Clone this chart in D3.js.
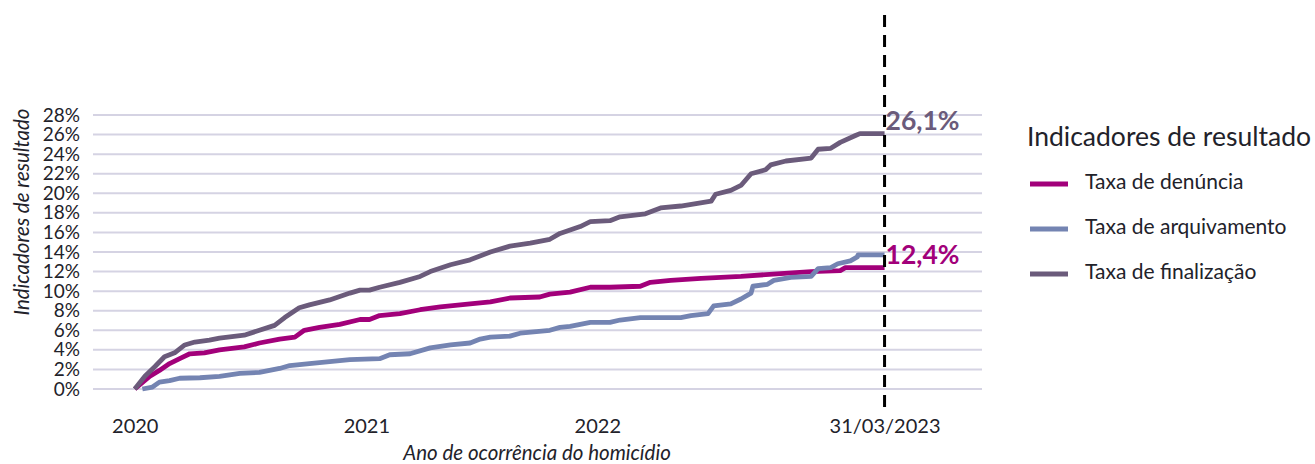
<!DOCTYPE html>
<html>
<head>
<meta charset="utf-8">
<script src="https://cdn.jsdelivr.net/npm/d3@7"></script>
<style>
    body { margin: 0; background: #fff; }
    svg { font-family: Lato, "Noto Sans", sans-serif; }
</style>
</head>
<body>
<div id="container"></div>
<script>

// Data (values in %).

const taxaDenuncia = [
    ['2020-01-01', 0], ['2020-01-25', 1.3], ['2020-02-09', 1.9], ['2020-02-25', 2.6],
    ['2020-03-12', 3.1], ['2020-03-28', 3.6], ['2020-04-20', 3.7], ['2020-05-14', 4.0],
    ['2020-06-22', 4.3], ['2020-07-16', 4.7], ['2020-08-17', 5.1], ['2020-09-10', 5.3],
    ['2020-09-25', 6.0], ['2020-10-19', 6.3], ['2020-11-20', 6.6], ['2020-12-22', 7.1],
    ['2021-01-06', 7.1], ['2021-01-22', 7.5], ['2021-02-23', 7.7], ['2021-03-27', 8.1],
    ['2021-04-28', 8.4], ['2021-06-14', 8.7], ['2021-07-16', 8.9], ['2021-08-16', 9.3],
    ['2021-10-02', 9.4], ['2021-10-18', 9.7], ['2021-11-19', 9.9], ['2021-12-21', 10.4],
    ['2022-01-21', 10.4], ['2022-03-10', 10.5], ['2022-03-26', 10.9], ['2022-04-27', 11.1],
    ['2022-06-14', 11.3], ['2022-08-16', 11.5], ['2022-10-18', 11.8], ['2022-12-05', 12.0],
    ['2023-01-20', 12.1], ['2023-01-28', 12.4], ['2023-03-31', 12.4]
];

const taxaArquivamento = [
    ['2020-01-13', 0], ['2020-01-29', 0.2], ['2020-02-09', 0.7], ['2020-02-25', 0.85],
    ['2020-03-12', 1.1], ['2020-04-13', 1.15], ['2020-05-14', 1.3], ['2020-06-15', 1.6],
    ['2020-07-16', 1.7], ['2020-08-17', 2.1], ['2020-09-02', 2.4], ['2020-10-03', 2.6],
    ['2020-11-04', 2.8], ['2020-12-06', 3.0], ['2021-01-22', 3.1], ['2021-02-07', 3.5],
    ['2021-03-11', 3.6], ['2021-04-12', 4.2], ['2021-05-14', 4.5], ['2021-06-14', 4.7],
    ['2021-06-30', 5.1], ['2021-07-16', 5.3], ['2021-08-16', 5.4], ['2021-09-01', 5.7],
    ['2021-10-18', 6.0], ['2021-11-03', 6.3], ['2021-11-19', 6.4], ['2021-12-21', 6.8],
    ['2022-01-21', 6.8], ['2022-02-06', 7.05], ['2022-03-10', 7.3], ['2022-05-13', 7.3],
    ['2022-05-29', 7.5], ['2022-06-25', 7.7], ['2022-07-04', 8.5], ['2022-07-31', 8.7],
    ['2022-08-16', 9.2], ['2022-09-01', 9.8], ['2022-09-04', 10.5], ['2022-09-27', 10.7],
    ['2022-10-07', 11.1], ['2022-11-03', 11.4], ['2022-12-05', 11.5], ['2022-12-16', 12.3],
    ['2023-01-05', 12.4], ['2023-01-16', 12.8], ['2023-02-05', 13.1], ['2023-02-16', 13.5],
    ['2023-02-17', 13.7], ['2023-03-31', 13.7]
];

const taxaFinalizacao = [
    ['2020-01-01', 0], ['2020-01-17', 1.3], ['2020-02-02', 2.3], ['2020-02-17', 3.3],
    ['2020-03-04', 3.7], ['2020-03-20', 4.5], ['2020-04-05', 4.8], ['2020-04-28', 5.0],
    ['2020-05-14', 5.2], ['2020-06-22', 5.5], ['2020-07-16', 6.0], ['2020-08-09', 6.5],
    ['2020-08-25', 7.3], ['2020-09-17', 8.3], ['2020-10-03', 8.6], ['2020-11-04', 9.1],
    ['2020-12-06', 9.8], ['2020-12-22', 10.1], ['2021-01-06', 10.1], ['2021-01-22', 10.4],
    ['2021-02-23', 10.9], ['2021-03-27', 11.5], ['2021-04-12', 12.0], ['2021-05-14', 12.7],
    ['2021-06-14', 13.2], ['2021-07-16', 14.0], ['2021-08-16', 14.6], ['2021-09-17', 14.9],
    ['2021-10-18', 15.3], ['2021-11-03', 15.9], ['2021-12-05', 16.6], ['2021-12-21', 17.1],
    ['2022-01-21', 17.2], ['2022-02-06', 17.6], ['2022-03-18', 17.9], ['2022-04-11', 18.5],
    ['2022-05-13', 18.7], ['2022-06-30', 19.2], ['2022-07-07', 19.9], ['2022-07-31', 20.3],
    ['2022-08-16', 20.8], ['2022-09-01', 22.0], ['2022-09-24', 22.4], ['2022-10-02', 22.9],
    ['2022-10-26', 23.3], ['2022-12-05', 23.6], ['2022-12-16', 24.5], ['2023-01-05', 24.6],
    ['2023-01-20', 25.2], ['2023-02-13', 25.9], ['2023-02-20', 26.1], ['2023-03-31', 26.1]
];

const seriesNames = ['Taxa de denúncia', 'Taxa de arquivamento', 'Taxa de finalização'];
const seriesColors = ['#a2007a', '#7484b2', '#6b5b7b'];
const endLabels = ['12,4%', null, '26,1%'];

const xTickDates = ['2020-01-01', '2021-01-01', '2022-01-01', '2023-03-31'];
const xTickLabels = ['2020', '2021', '2022', '31/03/2023'];
const yTicks = [0, 2, 4, 6, 8, 10, 12, 14, 16, 18, 20, 22, 24, 26, 28];
const cutoffDate = '2023-03-31';

const parseDate = d3.timeParse('%Y-%m-%d');

// Canvas.

const width = 1315;
const height = 464;

const svg = d3.select('#container')
    .append('svg')
    .attr('width', width)
    .attr('height', height);

const x = d3.scaleTime()
    .domain([parseDate('2019-10-27'), parseDate('2023-09-01')])
    .range([93, 982]);

const y = d3.scaleLinear()
    .domain([0, 28])
    .range([389, 115]);

const textColor = '#22222a';

// Gridlines.

svg.append('g')
    .selectAll('line')
    .data(yTicks)
    .enter()
    .append('line')
    .attr('x1', 93)
    .attr('x2', 982)
    .attr('y1', d => y(d))
    .attr('y2', d => y(d))
    .attr('stroke', '#d5d3e3')
    .attr('stroke-width', 2);

// Y axis.

const yAxis = svg.append('g')
    .attr('transform', 'translate(86,0)')
    .call(d3.axisLeft(y).tickValues(yTicks).tickFormat(d => d + '%').tickSize(0).tickPadding(6));

yAxis.select('.domain').remove();
yAxis.selectAll('text')
    .attr('font-size', 19)
    .attr('fill', textColor)
    .attr('font-family', 'Lato, sans-serif');

svg.append('text')
    .attr('transform', 'translate(29,212) rotate(-90)')
    .attr('text-anchor', 'middle')
    .attr('font-size', 20.5)
    .attr('font-style', 'italic')
    .attr('fill', textColor)
    .text('Indicadores de resultado');

// X axis.

const xAxis = svg.append('g')
    .attr('transform', 'translate(0,413)')
    .call(d3.axisBottom(x)
        .tickValues(xTickDates.map(parseDate))
        .tickFormat((d, i) => xTickLabels[i])
        .tickSize(0)
        .tickPadding(6));

xAxis.select('.domain').remove();
xAxis.selectAll('text')
    .attr('font-size', 20)
    .attr('fill', textColor)
    .attr('font-family', 'Lato, sans-serif');

svg.append('text')
    .attr('x', 537)
    .attr('y', 460)
    .attr('text-anchor', 'middle')
    .attr('font-size', 20.5)
    .attr('font-style', 'italic')
    .attr('fill', textColor)
    .text('Ano de ocorrência do homicídio');

// Lines.

const line = d3.line()
    .x(d => x(parseDate(d[0])))
    .y(d => y(d[1]));

const allSeries = [taxaDenuncia, taxaArquivamento, taxaFinalizacao];

svg.append('g')
    .selectAll('path')
    .data(allSeries)
    .enter()
    .append('path')
    .attr('d', d => line(d))
    .attr('fill', 'none')
    .attr('stroke', (d, i) => seriesColors[i])
    .attr('stroke-width', 4.8)
    .attr('stroke-linejoin', 'round');

// Cutoff line.

svg.append('line')
    .attr('x1', x(parseDate(cutoffDate)))
    .attr('x2', x(parseDate(cutoffDate)))
    .attr('y1', 15)
    .attr('y2', 407)
    .attr('stroke', '#000')
    .attr('stroke-width', 3)
    .attr('stroke-dasharray', '12,8');

// End labels.

allSeries.forEach((s, i) => {
    if (!endLabels[i]) return;
    const last = s[s.length - 1];
    svg.append('text')
        .attr('x', x(parseDate(last[0])) + 1)
        .attr('y', y(last[1]) - 10)
        .attr('dominant-baseline', 'middle')
        .attr('font-size', 26.5)
        .attr('font-weight', 'bold')
        .attr('fill', seriesColors[i])
        .text(endLabels[i]);
});

// Legend.

const legend = svg.append('g');

legend.append('text')
    .attr('x', 1027)
    .attr('y', 146)
    .attr('font-size', 26.5)
    .attr('fill', textColor)
    .text('Indicadores de resultado');

seriesNames.forEach((name, i) => {
    const ly = 184 + i * 45;
    legend.append('line')
        .attr('x1', 1030)
        .attr('x2', 1068)
        .attr('y1', ly)
        .attr('y2', ly)
        .attr('stroke', seriesColors[i])
        .attr('stroke-width', 4.8);
    legend.append('text')
        .attr('x', 1085)
        .attr('y', ly)
        .attr('dominant-baseline', 'middle')
        .attr('font-size', 21)
        .attr('fill', textColor)
        .text(name);
});

</script>
</body>
</html>
